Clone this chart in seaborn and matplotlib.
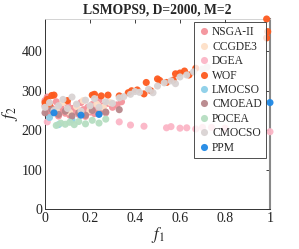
import matplotlib
matplotlib.use("Agg")
import matplotlib.pyplot as plt
import seaborn as sns
import pandas as pd

# ---- data -------------------------------------------------------------
algorithms = ["NSGA-II", "CCGDE3", "DGEA", "WOF", "LMOCSO",
              "CMOEAD", "POCEA", "CMOCSO", "PPM"]
colors = ["#f4939b", "#fde0c8", "#fbb6c6", "#fd5a1e", "#8ccfe8",
          "#b8878b", "#b5dec1", "#d9d3d3", "#1f88e5"]

nsga2_f1 = [0.00, 0.00, 0.01, 0.01, 0.02, 0.02, 0.03, 0.04, 0.05, 0.06, 0.07, 0.08,
            0.09, 0.10, 0.11, 0.12, 0.13, 0.14, 0.15, 0.16, 0.17, 0.18, 0.19, 0.20,
            0.21, 0.22, 0.23, 0.24, 0.25, 0.26, 0.27, 0.28, 0.30, 0.32, 0.34]
nsga2_f2 = [262, 275, 248, 284, 240, 268, 256, 246, 272, 236, 258, 250,
            243, 266, 238, 255, 247, 262, 240, 270, 252, 235, 258, 246,
            265, 242, 256, 276, 250, 262, 244, 268, 258, 264, 272]

ccgde3_f1 = [0.02, 0.05, 0.08, 0.11, 0.14, 0.17, 0.20, 0.23, 0.26, 0.29]
ccgde3_f2 = [265, 252, 270, 245, 260, 275, 250, 266, 258, 270]

dgea_f1 = [0.01, 0.33, 0.38, 0.44, 0.54, 0.56, 0.60, 0.63, 0.67, 0.70, 0.74, 0.80, 1.00]
dgea_f2 = [221, 221, 213, 210, 206, 209, 205, 206, 203, 207, 207, 205, 196]

wof_f1 = [0.00, 0.01, 0.02, 0.03, 0.04, 0.10, 0.21, 0.22, 0.25, 0.28, 0.33, 0.37,
          0.385, 0.41, 0.44, 0.45, 0.47, 0.50, 0.51, 0.54, 0.57, 0.58, 0.60, 0.62,
          0.64, 0.67, 0.985, 0.99, 0.985]
wof_f2 = [270, 278, 265, 288, 289, 275, 289, 291, 287, 289, 287, 295,
          300, 302, 292, 321, 300, 330, 326, 321, 327, 343, 345, 350,
          340, 357, 482, 450, 434]

lmocso_f1 = [0.02, 0.06, 0.12]
lmocso_f2 = [232, 214, 226]

cmoead_f1 = [0.00, 0.03, 0.06, 0.09, 0.12, 0.15, 0.18, 0.21, 0.24, 0.27, 0.33]
cmoead_f2 = [244, 252, 240, 248, 236, 244, 238, 250, 242, 246, 252]

pocea_f1 = [0.05, 0.07, 0.09, 0.11, 0.13, 0.15, 0.18, 0.21, 0.24, 0.27]
pocea_f2 = [212, 218, 215, 220, 214, 222, 216, 225, 218, 228]

cmocso_f1 = [0.00, 0.02, 0.04, 0.06, 0.08, 0.10, 0.12, 0.14, 0.16, 0.18, 0.20,
             0.22, 0.24, 0.27, 0.30, 0.33, 0.35, 0.38, 0.40, 0.42, 0.46, 0.48,
             0.50, 0.53, 0.56, 0.58, 0.60, 0.63, 0.66, 0.70, 0.72]
cmocso_f2 = [258, 270, 250, 262, 278, 255, 284, 266, 248, 276, 262,
             280, 258, 272, 268, 282, 285, 291, 298, 296, 304, 295,
             312, 320, 325, 318, 335, 340, 348, 355, 360]

ppm_f1 = [0.04, 0.16, 0.24, 1.00]
ppm_f2 = [244, 238, 240, 270]

series = [(nsga2_f1, nsga2_f2), (ccgde3_f1, ccgde3_f2), (dgea_f1, dgea_f2),
          (wof_f1, wof_f2), (lmocso_f1, lmocso_f2), (cmoead_f1, cmoead_f2),
          (pocea_f1, pocea_f2), (cmocso_f1, cmocso_f2), (ppm_f1, ppm_f2)]

rows = []
for name, (xs, ys) in zip(algorithms, series):
    for x, y in zip(xs, ys):
        rows.append({"f1": x, "f2": y, "alg": name})
df = pd.DataFrame(rows)

# ---- plot -------------------------------------------------------------
sns.set_style("white")
plt.rcParams["font.family"] = ["Liberation Serif", "DejaVu Serif"]
plt.rcParams["mathtext.fontset"] = "stix"

fig = plt.figure(figsize=(2.99, 2.49), dpi=100)
ax = fig.add_axes([0.1505, 0.1606, 0.7525, 0.7631])

sns.scatterplot(data=df, x="f1", y="f2", hue="alg", hue_order=algorithms,
                palette=dict(zip(algorithms, colors)), s=26, linewidth=0,
                alpha=0.95, ax=ax, legend=True, clip_on=False, zorder=3)

ax.set_xlim(0, 1)
ax.set_ylim(0, 482)
ax.set_xticks([0, 0.2, 0.4, 0.6, 0.8, 1])
ax.set_xticklabels(["0", "0.2", "0.4", "0.6", "0.8", "1"])
ax.set_yticks([0, 100, 200, 300, 400])
ax.tick_params(direction="in", length=3, width=0.6, labelsize=10,
               top=True, right=True, colors="#222222", pad=2)
for side in ["left", "bottom"]:
    ax.spines[side].set_color("#333333")
    ax.spines[side].set_linewidth(0.7)
ax.spines["top"].set_color("#cccccc")
ax.spines["top"].set_linewidth(0.6)
ax.spines["right"].set_color("#888888")
ax.spines["right"].set_linewidth(1.5)

ax.set_xlabel("$f_1$", fontsize=12, labelpad=0)
ax.set_ylabel("$f_2$", fontsize=12, labelpad=1)
ax.set_title("LSMOPS9, D=2000, M=2", fontsize=9.8, fontweight="bold", pad=4)

handles, labels = ax.get_legend_handles_labels()
leg = ax.legend(handles, labels, loc="upper right", bbox_to_anchor=(0.982, 0.9826),
                fontsize=8.3, frameon=True, fancybox=False, edgecolor="#222222",
                borderpad=0.35, labelspacing=0.21, handletextpad=0.25,
                handlelength=1.0, borderaxespad=0, markerscale=1.0)
leg.get_frame().set_linewidth(0.7)
leg.set_zorder(5)

fig.savefig("out.png", dpi=100)
